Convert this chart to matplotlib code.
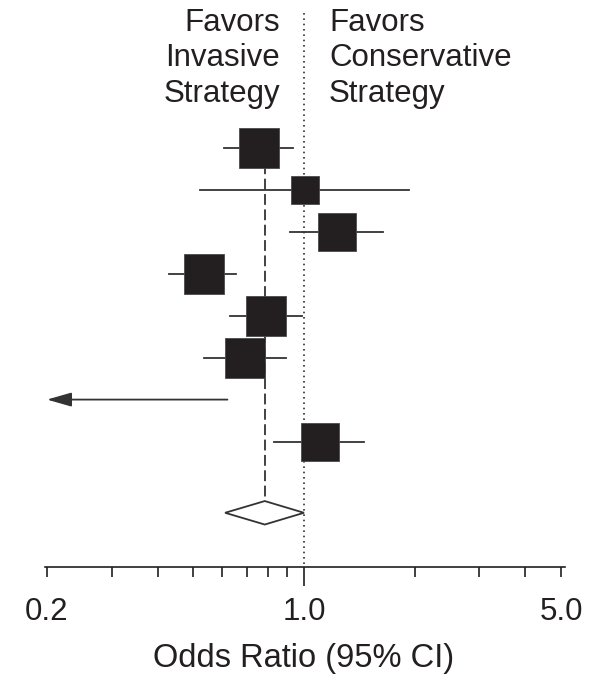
import numpy as np
import matplotlib.pyplot as plt
from matplotlib.patches import Polygon

plt.rcParams['font.family'] = ['Liberation Sans', 'DejaVu Sans']

# odds ratio and 95% CI for each trial, top row first
odds_ratio = [0.754, 1.004, 1.226, 0.533, 0.788, 0.690, 0.12, 1.105]
ci_low = [0.607, 0.522, 0.916, 0.429, 0.628, 0.534, 0.03, 0.830]
ci_high = [0.935, 1.934, 1.643, 0.655, 0.989, 0.895, 0.619, 1.459]
weights = [15.0, 7.8, 14.1, 16.0, 16.0, 15.0, 2.9, 14.4]  # % weight, sets box size

# pooled estimate (diamond)
pooled_or = 0.782
pooled_low = 0.610
pooled_high = 1.0

minor_ticks = [0.2, 0.3, 0.4, 0.5, 0.6, 0.7, 0.8, 0.9, 2, 3, 4, 5]
minor_labels = ['0.2', '', '', '', '', '', '', '', '', '', '', '5.0']
major_ticks = [1.0]
major_labels = ['1.0']

left_text = ['Favors', 'Invasive', 'Strategy']
right_text = ['Favors', 'Conservative', 'Strategy']

DARK = '#231f20'
LINE = '#333333'
W, H = 595, 678


def px(x, y):
    """pixel position (from top left) -> figure fraction"""
    return x / W, 1 - y / H


fig = plt.figure(figsize=(W / 100, H / 100), dpi=100)
ax = fig.add_axes([45 / W, 1 - 567.3 / H, 520 / W, 567.3 / H])
ax.set_xscale('log')
ax.set_xlim(0.1975, 5.126)
ax.set_ylim(10.0, -3.53)

rows = np.arange(len(odds_ratio))
pooled_y = 8.7
half_h = 0.28

# reference lines
ax.plot([1, 1], [-3.22, 10], color=LINE, lw=1.2, ls=(0, (1, 2.2)), zorder=1)
ax.plot([pooled_or, pooled_or], [0, pooled_y - half_h], color=LINE, lw=1.3,
        ls=(0, (6, 2.5)), zorder=1)

for y, est, lo, hi, w in zip(rows, odds_ratio, ci_low, ci_high, weights):
    if lo < 0.2:
        # CI runs off the left edge -> arrow
        ax.annotate('', xy=(0.2, y), xytext=(hi, y),
                    arrowprops=dict(arrowstyle='-|>,head_length=15,head_width=4.3',
                                    mutation_scale=1, lw=1.3, color=LINE,
                                    shrinkA=0, shrinkB=0), zorder=2)
    else:
        ax.plot([lo, hi], [y, y], color=LINE, lw=1.3, zorder=2)
    if est >= 0.2:
        side = 10.1 * np.sqrt(w) * 0.72
        ax.plot(est, y, marker='s', ms=side, color=DARK, mec='#4a4a4a', mew=0.6,
                ls='none', zorder=3)

diamond = Polygon([(pooled_low, pooled_y), (pooled_or, pooled_y - half_h),
                   (pooled_high, pooled_y), (pooled_or, pooled_y + half_h)],
                  closed=True, facecolor='white', edgecolor=LINE, lw=1.3, zorder=3)
ax.add_patch(diamond)

for s in ['top', 'left', 'right']:
    ax.spines[s].set_visible(False)
ax.spines['bottom'].set_linewidth(1.2)
ax.spines['bottom'].set_color(DARK)
ax.set_yticks([])
ax.set_xticks(major_ticks, major_labels)
ax.set_xticks(minor_ticks, minor_labels, minor=True)
ax.tick_params(which='major', length=13.7, width=1.2, pad=7.9, labelsize=22.5,
               color=DARK, labelcolor=DARK)
ax.tick_params(which='minor', length=7.5, width=1.2, pad=14.2, labelsize=22.5,
               color=DARK, labelcolor=DARK)

fig.text(*px(304, 667), 'Odds Ratio (95% CI)', ha='center', va='baseline',
         fontsize=23.5, color=DARK)

for base, lt, rt in zip([31, 66.5, 102], left_text, right_text):
    fig.text(*px(280, base), lt, ha='right', va='baseline', fontsize=22.5, color=DARK)
    fig.text(*px(329, base), rt, ha='left', va='baseline', fontsize=22.5, color=DARK)

fig.savefig('out.png', dpi=100)
